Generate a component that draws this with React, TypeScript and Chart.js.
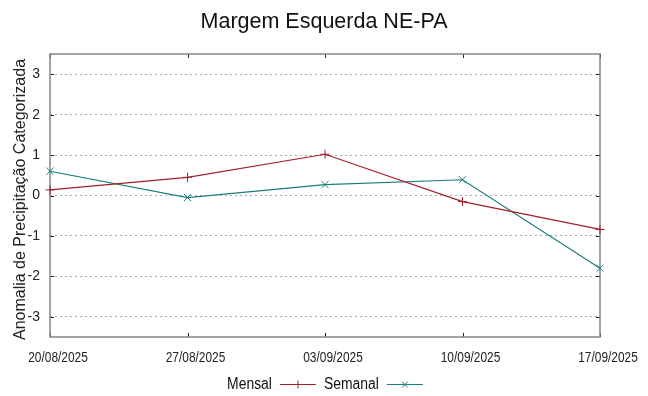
import React, { useEffect, useRef } from 'react';
import { Chart, registerables } from 'chart.js';
Chart.register(...registerables);

const dateLabels = ['20/08/2025', '27/08/2025', '03/09/2025', '10/09/2025', '17/09/2025'];
const mensalValues = [0.14, 0.45, 1.02, -0.15, -0.84];
const semanalValues = [0.6, -0.05, 0.27, 0.39, -1.8];
const yTickValues = [-3, -2, -1, 0, 1, 2, 3];
const seriesNames = ['Mensal', 'Semanal'];
const titleText = 'Margem Esquerda NE-PA';
const yAxisTitle = 'Anomalia de Precipitação Categorizada';

const RED = '#a3202a';
const TEAL = '#1a7c7e';
const SANS = '"Liberation Sans", Arial, sans-serif';

function drawMarker(ctx: CanvasRenderingContext2D, style: string, x: number, y: number, r: number) {
  ctx.beginPath();
  if (style === 'cross') {
    ctx.moveTo(x - r, y); ctx.lineTo(x + r, y);
    ctx.moveTo(x, y - r); ctx.lineTo(x, y + r);
  } else {
    const d = r * 0.75;
    ctx.moveTo(x - d, y - d); ctx.lineTo(x + d, y + d);
    ctx.moveTo(x - d, y + d); ctx.lineTo(x + d, y - d);
  }
  ctx.stroke();
}

function condensedText(ctx: CanvasRenderingContext2D, text: string, x: number, y: number, sx: number, align: 'left' | 'right' | 'center') {
  const w = ctx.measureText(text).width * sx;
  let left = x;
  if (align === 'right') left = x - w;
  else if (align === 'center') left = x - w / 2;
  ctx.save();
  ctx.translate(left, y);
  ctx.scale(sx, 1);
  ctx.textAlign = 'left';
  ctx.fillText(text, 0, 0);
  ctx.restore();
  return w;
}

const framePlugin = {
  id: 'gnuFrame',
  beforeDatasetsDraw(chart: any) {
    const { ctx, chartArea: a, scales } = chart;
    ctx.save();
    ctx.strokeStyle = '#222';
    ctx.lineWidth = 1;
    const tl = 4;
    yTickValues.forEach((v) => {
      const y = Math.round(scales.y.getPixelForValue(v)) + 0.5;
      ctx.beginPath();
      ctx.moveTo(a.left, y); ctx.lineTo(a.left + tl, y);
      ctx.moveTo(a.right, y); ctx.lineTo(a.right - tl, y);
      ctx.stroke();
    });
    dateLabels.forEach((_, i) => {
      const x = Math.round(scales.x.getPixelForValue(i)) + 0.5;
      ctx.beginPath();
      ctx.moveTo(x, a.bottom); ctx.lineTo(x, a.bottom - tl);
      ctx.moveTo(x, a.top); ctx.lineTo(x, a.top + tl);
      ctx.stroke();
    });
    ctx.strokeStyle = '#858585';
    ctx.lineWidth = 1.5;
    ctx.strokeRect(a.left, a.top, a.right - a.left, a.bottom - a.top);
    ctx.restore();
  },
  afterDraw(chart: any) {
    const { ctx, scales, chartArea: a } = chart;
    ctx.save();
    // title
    ctx.fillStyle = '#111';
    ctx.font = '21.5px ' + SANS;
    ctx.textAlign = 'center';
    ctx.textBaseline = 'alphabetic';
    ctx.fillText(titleText, 324, 28);

    // y axis title
    ctx.save();
    ctx.font = '16px ' + SANS;
    ctx.fillStyle = '#222';
    ctx.translate(25, (a.top + a.bottom) / 2 + 4);
    ctx.rotate(-Math.PI / 2);
    ctx.textAlign = 'center';
    ctx.textBaseline = 'alphabetic';
    ctx.fillText(yAxisTitle, 0, 0);
    ctx.restore();

    // x tick labels
    ctx.font = '14px ' + SANS;
    ctx.fillStyle = '#222';
    ctx.textBaseline = 'alphabetic';
    (chart.data.labels as string[]).forEach((lab, i) => {
      const x = scales.x.getPixelForValue(i);
      condensedText(ctx, lab, x + 8, 362, 0.85, 'center');
    });

    // legend
    ctx.font = '16px ' + SANS;
    const sx = 0.87;
    const widths = chart.data.datasets.map((d: any) => ctx.measureText(d.label).width * sx);
    const maxW = Math.max(...widths);
    const colW = maxW + 52;
    const ty = 388.5;
    const ly = 384;
    let x0 = 217;
    chart.data.datasets.forEach((d: any) => {
      ctx.fillStyle = '#111';
      condensedText(ctx, d.label, x0 + maxW, ty, sx, 'right');
      const lx0 = x0 + maxW + 8;
      const lx1 = lx0 + 36;
      ctx.strokeStyle = d.borderColor;
      ctx.lineWidth = 1.2;
      ctx.beginPath();
      ctx.moveTo(lx0, ly + 0.5); ctx.lineTo(lx1, ly + 0.5);
      ctx.stroke();
      ctx.lineWidth = 1;
      drawMarker(ctx, d.pointStyle, (lx0 + lx1) / 2, ly + 0.5, 4);
      x0 += colW;
    });
    ctx.restore();
  },
};

export default function App() {
  const ref = useRef<HTMLCanvasElement | null>(null);
  useEffect(() => {
    if (!ref.current) return;
    const chart = new Chart(ref.current, {
      type: 'line',
      data: {
        labels: dateLabels,
        datasets: [
          {
            label: seriesNames[0],
            data: mensalValues,
            borderColor: RED,
            backgroundColor: RED,
            borderWidth: 1.2,
            pointStyle: 'cross',
            pointRadius: 4.5,
            pointBorderWidth: 1,
            pointBorderColor: RED,
            tension: 0,
            clip: false as any,
          },
          {
            label: seriesNames[1],
            data: semanalValues,
            borderColor: TEAL,
            backgroundColor: TEAL,
            borderWidth: 1.2,
            pointStyle: 'crossRot',
            pointRadius: 5,
            pointBorderWidth: 1,
            pointBorderColor: TEAL,
            tension: 0,
            clip: false as any,
          },
        ],
      },
      options: {
        responsive: false,
        animation: false,
        layout: { padding: { top: 54, right: 48, left: 0, bottom: 0 } },
        plugins: {
          legend: { display: false },
          title: { display: false },
          tooltip: { enabled: false },
        },
        scales: {
          x: {
            type: 'category',
            offset: false,
            grid: { display: false, drawTicks: false },
            border: { display: false },
            ticks: { display: false, autoSkip: false, maxRotation: 0 },
            afterFit: (s: any) => { s.height = 59; },
          },
          y: {
            min: -3.5,
            max: 3.5,
            afterBuildTicks: (s: any) => { s.ticks = yTickValues.map((v) => ({ value: v })); },
            grid: { color: '#a8a8a8', lineWidth: 1, drawTicks: false },
            border: { display: false, dash: [2, 3] },
            ticks: {
              color: '#222',
              font: { family: SANS, size: 14 },
              padding: 10,
            },
            afterFit: (s: any) => { s.width = 50; },
          },
        },
      },
      plugins: [framePlugin],
    });
    return () => chart.destroy();
  }, []);
  return (
    <div style={{ position: 'absolute', left: 0, top: 0, width: 648, height: 396, background: '#fff' }}>
      <canvas ref={ref} width={648} height={396} />
    </div>
  );
}
